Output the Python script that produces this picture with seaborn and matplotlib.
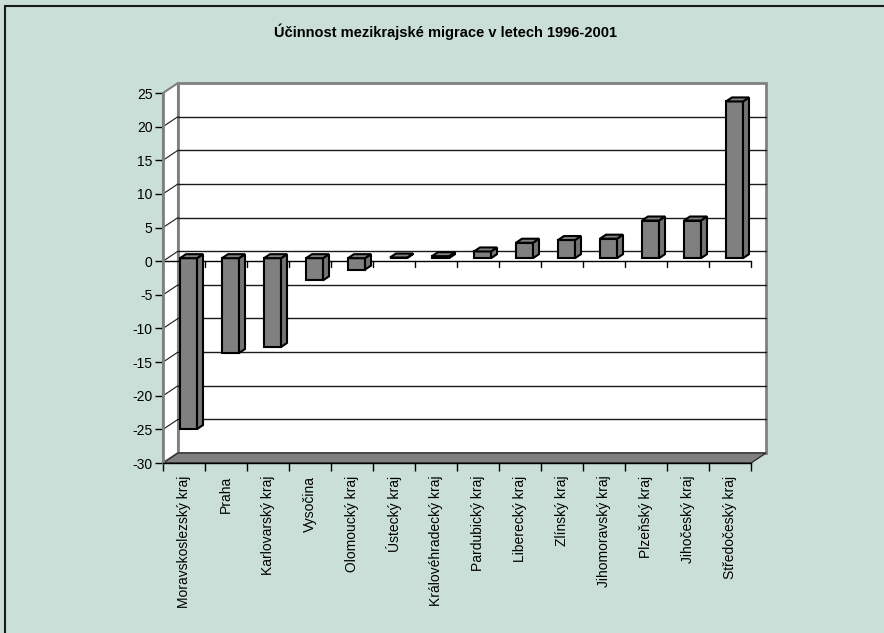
import numpy as np
import pandas as pd
import matplotlib
matplotlib.use("Agg")
import matplotlib.pyplot as plt
import seaborn as sns
from matplotlib.patches import Polygon
from matplotlib.transforms import IdentityTransform, ScaledTranslation
from matplotlib.lines import Line2D

title = "Účinnost mezikrajské migrace v letech 1996-2001"
regions = ["Moravskoslezský kraj", "Praha", "Karlovarský kraj", "Vysočina",
           "Olomoucký kraj", "Ústecký kraj", "Královéhradecký kraj",
           "Pardubický kraj", "Liberecký kraj", "Zlínský kraj",
           "Jihomoravský kraj", "Plzeňský kraj", "Jihočeský kraj",
           "Středočeský kraj"]
values = [-25.4, -14.1, -13.2, -3.3, -1.7, 0.1, 0.3, 1.0, 2.3, 2.7, 2.9,
          5.6, 5.6, 23.3]
y_ticks = list(range(-30, 30, 5))

BG = "#C9DFD7"
GREY = "#808080"
sns.set_theme(style="white")
plt.rcParams['font.family'] = ['Liberation Sans', 'DejaVu Sans']
plt.rcParams['axes.unicode_minus'] = False

W, H = 884, 633
DPI = 100
fig = plt.figure(figsize=(W / DPI, H / DPI), dpi=DPI, facecolor=BG)
ax = fig.add_axes([163 / W, 1 - 463 / H, (751 - 163) / W, (463 - 93) / H])
ax.set_facecolor('none')

df = pd.DataFrame({"kraj": regions, "hodnota": values})
sns.barplot(data=df, x="kraj", y="hodnota", color=GREY, saturation=1,
            edgecolor="black", linewidth=1.5, width=0.405, ax=ax, zorder=5)
ax.set_ylim(y_ticks[0], y_ticks[-1])
ax.set_xlim(-0.5, len(regions) - 0.5)
ax.set_yticks(y_ticks)
ax.set_xlabel("")
ax.set_ylabel("")

# depth geometry (pixels)
DX, DY = 15, 10          # wall depth
BOX, BOY = 4.5, 3        # bar front offset
BDX, BDY = 6, 4          # bar depth

T = ax.transData.transform
ident = IdentityTransform()

(x0, yb), (x1, yt) = T((-0.5, y_ticks[0])), T((len(regions) - 0.5, y_ticks[-1]))

def poly(pts, fc, ec, lw, z):
    p = Polygon(pts, closed=True, facecolor=fc, edgecolor=ec, linewidth=lw,
                transform=ident, clip_on=False, zorder=z)
    ax.add_patch(p)

def line(xs, ys, c, lw, z):
    ax.add_line(Line2D(xs, ys, color=c, linewidth=lw, transform=ident,
                       clip_on=False, zorder=z))

# back wall
poly([(x0 + DX, yb + DY), (x1 + DX, yb + DY), (x1 + DX, yt + DY), (x0 + DX, yt + DY)],
     "white", GREY, 2, 0.5)
# left wall
poly([(x0, yb), (x0, yt), (x0 + DX, yt + DY), (x0 + DX, yb + DY)], "white", GREY, 1.5, 0.6)
# floor
poly([(x0, yb), (x1, yb), (x1 + DX, yb + DY), (x0 + DX, yb + DY)], GREY, "#303030", 1, 0.7)

# gridlines on back wall and left wall
for v in y_ticks[1:-1]:
    _, yy = T((0, v))
    line([x0 + DX, x1 + DX], [yy + DY, yy + DY], "#1a1a1a", 1, 1)
    line([x0, x0 + DX], [yy, yy + DY], "#1a1a1a", 0.8, 1)

# front zero line with category boundary ticks
_, yz = T((0, 0))
line([x0, x1], [yz, yz], "black", 1, 3)
for k in range(len(regions) + 1):
    xx, _ = T((k - 0.5, 0))
    line([xx, xx], [yz, yz - 6], "black", 1, 3)

# bars: shift front faces and add side/top faces
off = ScaledTranslation(BOX / DPI, BOY / DPI, fig.dpi_scale_trans)
for p in list(ax.patches):
    if not hasattr(p, "get_height") or p.get_zorder() != 5:
        continue
    p.set_transform(ax.transData + off)
    bx, by, bw, bh = p.get_x(), p.get_y(), p.get_width(), p.get_height()
    (xl, ya) = T((bx, by))
    (xr, yc) = T((bx + bw, by + bh))
    xl += BOX; xr += BOX; ya += BOY; yc += BOY
    ylo, yhi = min(ya, yc), max(ya, yc)
    poly([(xr, ylo), (xr, yhi), (xr + BDX, yhi + BDY), (xr + BDX, ylo + BDY)],
         "#747474", "black", 1.5, 5.1)
    poly([(xl, yhi), (xr, yhi), (xr + BDX, yhi + BDY), (xl + BDX, yhi + BDY)],
         GREY, "black", 1.5, 5.2)

# axes styling
for s in ["top", "right"]:
    ax.spines[s].set_visible(False)
ax.spines["left"].set_color(GREY)
ax.spines["left"].set_linewidth(2)
ax.spines["left"].set_zorder(8)
ax.spines["bottom"].set_color("black")
ax.spines["bottom"].set_linewidth(1)
ax.spines["bottom"].set_zorder(8)
ax.tick_params(axis="y", direction="out", length=6, width=1, color="black",
               labelsize=10, labelcolor="black", pad=1.5, left=True)
ax.set_xticks(np.arange(-0.5, len(regions), 1), minor=True)
ax.tick_params(axis="x", which="minor", direction="out", length=6, width=1,
               color="black", bottom=True)
ax.tick_params(axis="x", which="major", length=0, labelsize=10,
               labelcolor="black", labelrotation=90, pad=9)
ax.grid(False)

fig.text(445.5 / W, 1 - 32 / H, title, ha="center", va="center",
         fontsize=10.5, fontweight="bold", color="black")

# chart border (top and left)
fig.add_artist(Line2D([4.5 / W, 1], [1 - 5.5 / H, 1 - 5.5 / H], color="#1a1a1a",
                      linewidth=1.5, transform=fig.transFigure))
fig.add_artist(Line2D([4.5 / W, 4.5 / W], [0, 1 - 5.5 / H], color="#1a1a1a",
                      linewidth=1.5, transform=fig.transFigure))

fig.savefig("out.png", dpi=DPI, facecolor=BG)
